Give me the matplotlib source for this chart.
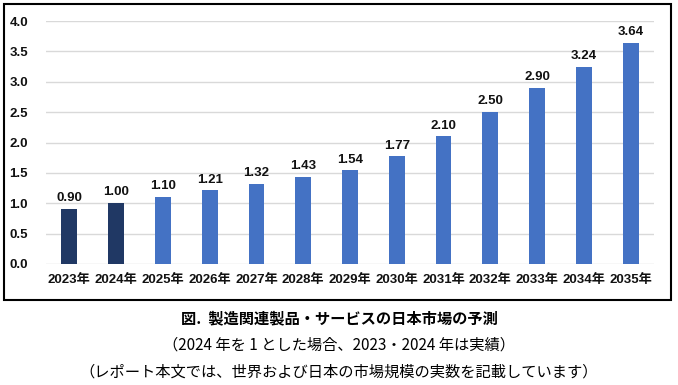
import matplotlib
matplotlib.use("Agg")
import matplotlib.pyplot as plt
from matplotlib.patches import Rectangle

plt.rcParams['font.family'] = ['Noto Sans CJK JP', 'DejaVu Sans']

years = ["2023年", "2024年", "2025年", "2026年", "2027年", "2028年", "2029年",
         "2030年", "2031年", "2032年", "2033年", "2034年", "2035年"]
values = [0.90, 1.00, 1.10, 1.21, 1.32, 1.43, 1.54, 1.77, 2.10, 2.50, 2.90, 3.24, 3.64]
actual = [True, True] + [False] * 11  # 2023, 2024 are actual results

title_lines = [
    "図.  製造関連製品・サービスの日本市場の予測",
    "（2024 年を 1 とした場合、2023・2024 年は実績）",
    "（レポート本文では、世界および日本の市場規模の実数を記載しています）",
]

num_font = ['Liberation Sans', 'Noto Sans CJK JP']

W, H = 678, 385
fig = plt.figure(figsize=(W / 100, H / 100), dpi=100)
ax = fig.add_axes([46 / W, 1 - 264 / H, (654 - 46) / W, (264 - 21) / H])

colors = ["#203864" if a else "#4472C4" for a in actual]
x = range(len(years))
ax.bar(x, values, width=0.34, color=colors, zorder=3)
for xi, v in zip(x, values):
    ax.text(xi, v + 0.08, f"{v:.2f}", ha="center", va="bottom", fontsize=9.5,
            color="#111111", family=num_font, fontweight="bold")

ax.set_ylim(0, 4)
ax.set_xlim(-0.5, len(years) - 0.5)
yt = [0, 0.5, 1.0, 1.5, 2.0, 2.5, 3.0, 3.5, 4.0]
ax.set_yticks(yt)
ax.set_yticklabels([f"{t:.1f}" for t in yt], fontsize=9.5, family=num_font,
                   fontweight="bold")
ax.set_xticks(list(x))
ax.set_xticklabels(years, fontsize=9.5, family=num_font, fontweight="bold")
ax.yaxis.grid(True, color="#D9D9D9", linewidth=1, zorder=0)
ax.tick_params(length=0, pad=7, colors="#111111")
ax.tick_params(axis="y", pad=13)
for s in ax.spines.values():
    s.set_visible(False)

fig.patches.append(Rectangle((4 / W, 1 - 300 / H), 667 / W, 296 / H,
                             transform=fig.transFigure, fill=False,
                             edgecolor="black", linewidth=1.5))

fig.text(0.5, 1 - 318 / H, title_lines[0], ha="center", va="center",
         fontsize=11, fontweight="bold")
fig.text(0.5, 1 - 345 / H, title_lines[1], ha="center", va="center", fontsize=11)
fig.text(0.5, 1 - 372 / H, title_lines[2], ha="center", va="center", fontsize=11)

fig.savefig("out.png", dpi=100)
